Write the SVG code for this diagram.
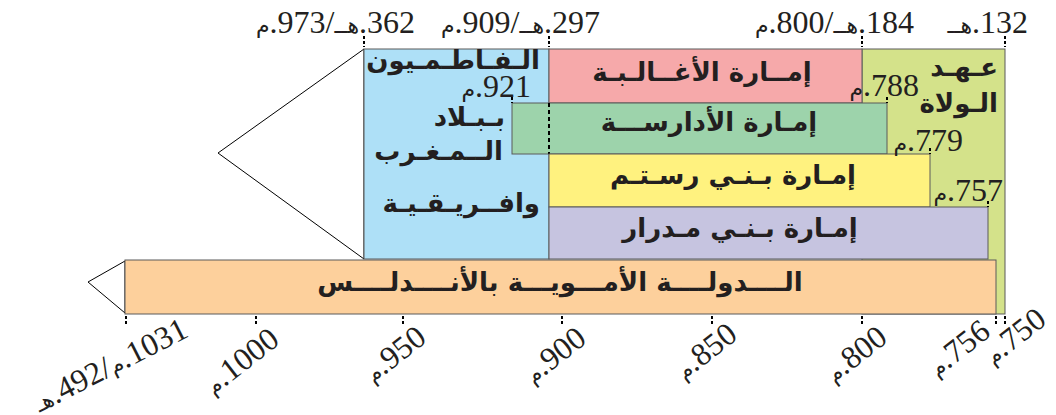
<svg xmlns="http://www.w3.org/2000/svg" width="1056" height="415" viewBox="0 0 1056 415">
<style>
.bar{stroke:#5a5a5a;stroke-width:1}
.lbl{font-family:"DejaVu Sans",sans-serif;font-weight:bold;font-size:26px;fill:#231f20}
.num{font-family:"Liberation Serif","DejaVu Sans",serif;font-size:32px;fill:#231f20}
.ar{font-family:"DejaVu Sans",sans-serif;font-size:22px}
.tick{stroke:#000;stroke-width:2;stroke-dasharray:3 2}
.tri{fill:#fff;stroke:#000;stroke-width:1}
</style>
<rect width="1056" height="415" fill="#fff"/>
<g id="connectors">
<polygon class="tri" points="364,49 218,153 364,259"/>
<polygon class="tri" points="125,261 88,282 125,313"/>
</g>
<g id="wulat">
<rect class="bar" x="862" y="49" width="143" height="265" fill="#d4e28a"/>
<text class="lbl" direction="rtl" x="998" y="76">عـهـد</text>
<text class="lbl" direction="rtl" x="998" y="112">الـولاة</text>
</g>
<g id="fatimids">
<rect class="bar" x="364" y="49" width="185" height="210" fill="#aee0f7"/>
<text class="lbl" direction="rtl" x="540" y="69" font-size="25">الـفـاطـمـيون</text>
<text class="lbl" direction="rtl" x="505" y="126">بـبـلاد</text>
<text class="lbl" direction="rtl" x="503" y="160">الــمـغـرب</text>
<text class="lbl" direction="rtl" x="540" y="212">وافــريـقـيـة</text>
</g>
<g id="aghlabids">
<rect class="bar" x="549" y="49" width="313" height="54" fill="#f6a9aa"/>
<text class="lbl" text-anchor="middle" x="702" y="81">إمــارة الأغــالـبـة</text>
</g>
<g id="idrisids">
<rect class="bar" x="512" y="103" width="375" height="51" fill="#9dd3ab"/>
<line x1="549" y1="103" x2="549" y2="154" stroke="#000" stroke-width="2" stroke-dasharray="4 3"/>
<text class="lbl" text-anchor="middle" x="709" y="131">إمـارة الأدارســـة</text>
</g>
<g id="rustamids">
<rect class="bar" x="549" y="154" width="381" height="53" fill="#fff27f"/>
<text class="lbl" text-anchor="middle" x="733" y="184">إمـارة بـنـي رسـتـم</text>
</g>
<g id="midrarids">
<rect class="bar" x="549" y="207" width="439" height="52" fill="#c6c4e0"/>
<text class="lbl" text-anchor="middle" x="740" y="237">إمـارة بـنـي مـدرار</text>
</g>
<g id="umayyads">
<rect class="bar" x="125" y="260" width="871" height="54" fill="#fdd09c"/>
<text class="lbl" text-anchor="middle" x="560" y="291">الــــدولــــة الأمـــويـــة بالأنــــدلــــس</text>
</g>
<g id="axis">
<line class="tick" x1="364" y1="36" x2="364" y2="47"/>
<line class="tick" x1="549" y1="36" x2="549" y2="47"/>
<line class="tick" x1="862" y1="36" x2="862" y2="47"/>
<line class="tick" x1="1005" y1="36" x2="1005" y2="47"/>
<line class="tick" x1="512" y1="97" x2="512" y2="103"/>
<line class="tick" x1="887" y1="97" x2="887" y2="103"/>
<line class="tick" x1="930" y1="148" x2="930" y2="154"/>
<line class="tick" x1="988" y1="201" x2="988" y2="207"/>
<line class="tick" x1="126" y1="316" x2="126" y2="326"/>
<line class="tick" x1="256" y1="316" x2="256" y2="326"/>
<line class="tick" x1="403" y1="316" x2="403" y2="326"/>
<line class="tick" x1="562" y1="316" x2="562" y2="326"/>
<line class="tick" x1="712" y1="316" x2="712" y2="326"/>
<line class="tick" x1="862" y1="316" x2="862" y2="326"/>
<line class="tick" x1="996" y1="316" x2="996" y2="326"/>
<line class="tick" x1="1005" y1="316" x2="1005" y2="326"/>
<text class="num" direction="rtl" x="415" y="33">362.<tspan class="ar">هــ</tspan>/973.<tspan class="ar">م</tspan></text>
<text class="num" direction="rtl" x="600" y="33">297.<tspan class="ar">هــ</tspan>/909.<tspan class="ar">م</tspan></text>
<text class="num" direction="rtl" x="914" y="33">184.<tspan class="ar">هــ</tspan>/800.<tspan class="ar">م</tspan></text>
<text class="num" direction="rtl" x="1028" y="33">132.<tspan class="ar">هــ</tspan></text>
<text class="num" direction="rtl" x="531" y="97">921.<tspan class="ar">م</tspan></text>
<text class="num" direction="rtl" x="919" y="96">788.<tspan class="ar">م</tspan></text>
<text class="num" direction="rtl" x="963" y="151">779.<tspan class="ar">م</tspan></text>
<text class="num" direction="rtl" x="1003" y="201">757.<tspan class="ar">م</tspan></text>
<text class="num" direction="rtl" font-size="30" transform="translate(190,336) rotate(-27)">1031.<tspan class="ar" font-size="20">م</tspan>/492.<tspan class="ar" font-size="20">هـ</tspan></text>
<text class="num" direction="rtl" transform="translate(281,343) rotate(-38)">1000.<tspan class="ar">م</tspan></text>
<text class="num" direction="rtl" transform="translate(428,341) rotate(-38)">950.<tspan class="ar">م</tspan></text>
<text class="num" direction="rtl" transform="translate(588,342) rotate(-38)">900.<tspan class="ar">م</tspan></text>
<text class="num" direction="rtl" transform="translate(739,338) rotate(-38)">850.<tspan class="ar">م</tspan></text>
<text class="num" direction="rtl" transform="translate(889,341) rotate(-38)">800.<tspan class="ar">م</tspan></text>
<text class="num" direction="rtl" transform="translate(992,335) rotate(-38)">756.<tspan class="ar">م</tspan></text>
<text class="num" direction="rtl" transform="translate(1048,323) rotate(-38)">750.<tspan class="ar">م</tspan></text>
</g>
</svg>
